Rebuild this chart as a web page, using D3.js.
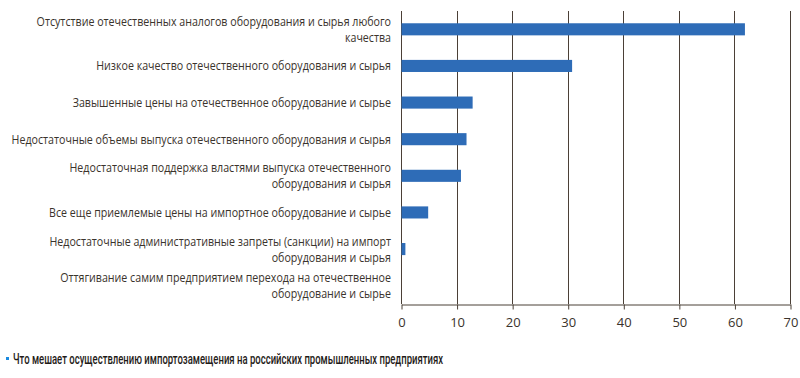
<!DOCTYPE html>
<html>
<head>
<meta charset="utf-8">
<script src="https://cdn.jsdelivr.net/npm/d3@7"></script>
<style>
  body { margin: 0; background: #fff; }
  svg { display: block; }
</style>
</head>
<body>
<svg width="800" height="378"></svg>
<script>
// categories (each label split into display lines)
const categories = [
  ["Отсутствие отечественных аналогов оборудования и сырья любого", "качества"],
  ["Низкое качество отечественного оборудования и сырья"],
  ["Завышенные цены на отечественное оборудование и сырье"],
  ["Недостаточные объемы выпуска отечественного оборудования и сырья"],
  ["Недостаточная поддержка властями выпуска отечественного", "оборудования и сырья"],
  ["Все еще приемлемые цены на импортное оборудование и сырье"],
  ["Недостаточные административные запреты (санкции) на импорт", "оборудования и сырья"],
  ["Оттягивание самим предприятием перехода на отечественное", "оборудование и сырье"]
];
const values = [61.8, 30.7, 12.8, 11.7, 10.7, 4.8, 0.7, 0];
const xTicks = [0, 10, 20, 30, 40, 50, 60, 70];
const legendText = "Что мешает осуществлению импортозамещения на российских промышленных предприятиях";

const svg = d3.select("svg");
const margin = {top: 11, left: 401, right: 10};
const plotW = 790 - margin.left;
const plotH = 304 - margin.top;
const labelRight = 391;
const labelMaxW = 380;

const g = svg.append("g").attr("transform", `translate(${margin.left},${margin.top})`);

const x = d3.scaleLinear().domain([0, 70]).range([0, plotW]);
const y = d3.scaleBand()
  .domain(d3.range(categories.length))
  .range([0, plotH])
  .paddingInner(0.67)
  .paddingOuter(0.335);

// grid lines
g.append("g")
  .selectAll("line")
  .data(xTicks)
  .join("line")
    .attr("x1", d => Math.round(x(d)) + 0.5)
    .attr("x2", d => Math.round(x(d)) + 0.5)
    .attr("y1", 0)
    .attr("y2", plotH)
    .attr("stroke", "#4b4037")
    .attr("stroke-width", 1);

// bars
g.append("g")
  .selectAll("rect")
  .data(values)
  .join("rect")
    .attr("x", x(0) + 0.5)
    .attr("y", (d, i) => y(i))
    .attr("width", d => Math.max(0, x(d) - x(0)))
    .attr("height", y.bandwidth())
    .attr("fill", "#2e6cb7");

// x axis
const xAxis = g.append("g")
  .attr("transform", `translate(0.5,${plotH + 0.5})`)
  .call(d3.axisBottom(x).tickValues(xTicks).tickSize(5).tickPadding(8).tickSizeOuter(0));
xAxis.select(".domain").attr("stroke", "#4b4037");
xAxis.selectAll(".tick line").attr("stroke", "#4b4037");
xAxis.selectAll("text")
  .attr("fill", "#3a332c")
  .style("font-family", "'Open Sans', sans-serif")
  .style("font-size", "13px");

// category labels - condensed horizontally so the widest line fits
const labels = svg.append("g")
  .attr("font-family", "'Open Sans', sans-serif")
  .attr("font-size", "13px")
  .attr("fill", "#3a332c")
  .attr("text-anchor", "end");

const lineH = 16;
categories.forEach((lines, i) => {
  const cy = margin.top + y(i) + y.bandwidth() / 2;
  const y0 = cy - (lines.length - 1) * lineH / 2;
  const t = labels.append("text");
  lines.forEach((ln, j) => {
    t.append("tspan")
      .attr("x", 0)
      .attr("y", y0 + j * lineH)
      .attr("dy", "0.35em")
      .text(ln);
  });
});

let widest = 0;
labels.selectAll("tspan").each(function() {
  widest = Math.max(widest, this.getComputedTextLength());
});
const sx = Math.min(1, labelMaxW / widest);
labels.attr("transform", `translate(${labelRight},0) scale(${sx},1)`);

// legend
svg.append("rect")
  .attr("x", 6)
  .attr("y", 357)
  .attr("width", 3)
  .attr("height", 3)
  .attr("fill", "#1a8ae0");

svg.append("text")
  .attr("x", 13)
  .attr("y", 359)
  .attr("dy", "0.35em")
  .attr("font-family", "Roboto, sans-serif")
  .attr("font-weight", 500)
  .attr("font-size", "14px")
  .attr("fill", "#1f1b18")
  .attr("textLength", 430)
  .attr("lengthAdjust", "spacingAndGlyphs")
  .text(legendText);
</script>
</body>
</html>
